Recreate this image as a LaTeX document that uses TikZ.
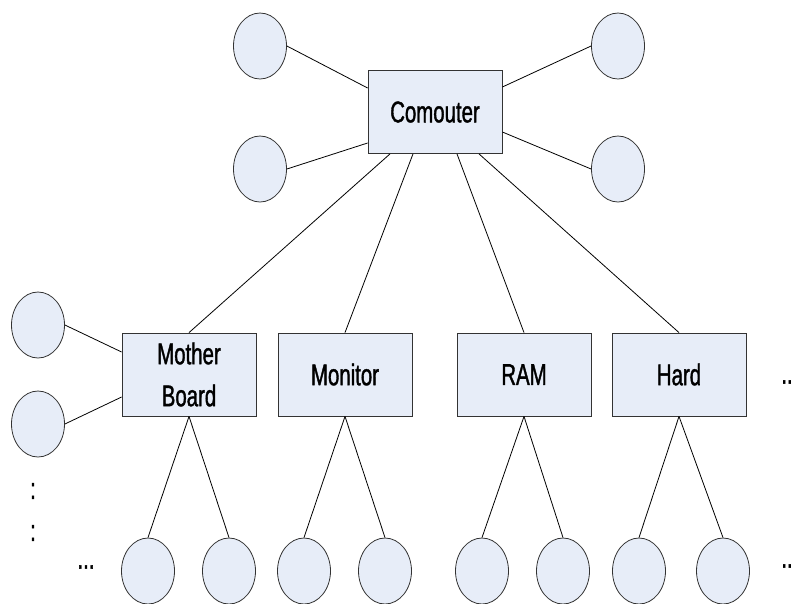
\documentclass[tikz,border=0pt]{standalone}
\usepackage{fontspec}
\setmainfont{Liberation Sans}[FakeStretch=0.68, FakeBold=1.2]
\usetikzlibrary{shapes.geometric}
\definecolor{partfill}{RGB}{231,237,248}
\begin{document}
\begin{tikzpicture}[x=1pt, y=-1pt, line width=0.8pt,
        part/.style={draw=black!80, fill=partfill, minimum width=134pt, minimum height=83pt, inner sep=0pt, align=center, font=\fontsize{30}{42}\selectfont},
        leaf/.style={draw=black!80, fill=partfill, ellipse, minimum width=53pt, minimum height=66pt, inner sep=0pt},
        more/.style={font=\fontsize{30}{30}\selectfont, inner sep=0pt}]
        \useasboundingbox (0,0) rectangle (795,603);

        \draw (435, 112) node[part] (comp) {Comouter};
        \draw (260, 46) node[leaf] (ctl) {};
        \draw (260, 169) node[leaf] (cbl) {};
        \draw (618, 46) node[leaf] (ctr) {};
        \draw (618, 169) node[leaf] (cbr) {};

        \draw (189, 374.5) node[part] (mb) {Mother\\Board};
        \draw (345, 374.5) node[part] (mon) {Monitor};
        \draw (524, 374.5) node[part] (ram) {RAM};
        \draw (679, 374.5) node[part] (hard) {Hard};

        \draw (38, 325) node[leaf] (mbl1) {};
        \draw (38, 424) node[leaf] (mbl2) {};

        \draw (148, 571) node[leaf] (mb1) {};
        \draw (229, 571) node[leaf] (mb2) {};
        \draw (304, 571) node[leaf] (mon1) {};
        \draw (385, 571) node[leaf] (mon2) {};
        \draw (482, 571) node[leaf] (ram1) {};
        \draw (563, 571) node[leaf] (ram2) {};
        \draw (639, 571) node[leaf] (hard1) {};
        \draw (723, 571) node[leaf] (hard2) {};

        \draw (ctl.east) -- ([yshift=24pt]comp.west);
        \draw (cbl.east) -- ([yshift=-31pt]comp.west);
        \draw ([yshift=25pt]comp.east) -- (ctr.west);
        \draw ([yshift=-20pt]comp.east) -- (cbr.west);

        \draw ([xshift=-45pt]comp.south) -- (mb.north);
        \draw ([xshift=-22pt]comp.south) -- (mon.north);
        \draw ([xshift=22pt]comp.south) -- (ram.north);
        \draw ([xshift=44pt]comp.south) -- (hard.north);

        \draw (mbl1.east) -- ([yshift=22.5pt]mb.west);
        \draw (mbl2.east) -- ([yshift=-22.5pt]mb.west);

        \draw (mb.south) -- (mb1.north);
        \draw (mb.south) -- (mb2.north);
        \draw (mon.south) -- (mon1.north);
        \draw (mon.south) -- (mon2.north);
        \draw (ram.south) -- (ram1.north);
        \draw (ram.south) -- (ram2.north);
        \draw (hard.south) -- (hard1.north);
        \draw (hard.south) -- (hard2.north);

        \draw (33, 491) node[more] (vd1) {:};
        \draw (33, 533) node[more] (vd2) {:};
        \draw (86, 567) node[more] (hd1) {...};
        \draw (787, 382) node[more] (hd2) {..};
        \draw (787, 566) node[more] (hd3) {..};
    \end{tikzpicture}
\end{document}
